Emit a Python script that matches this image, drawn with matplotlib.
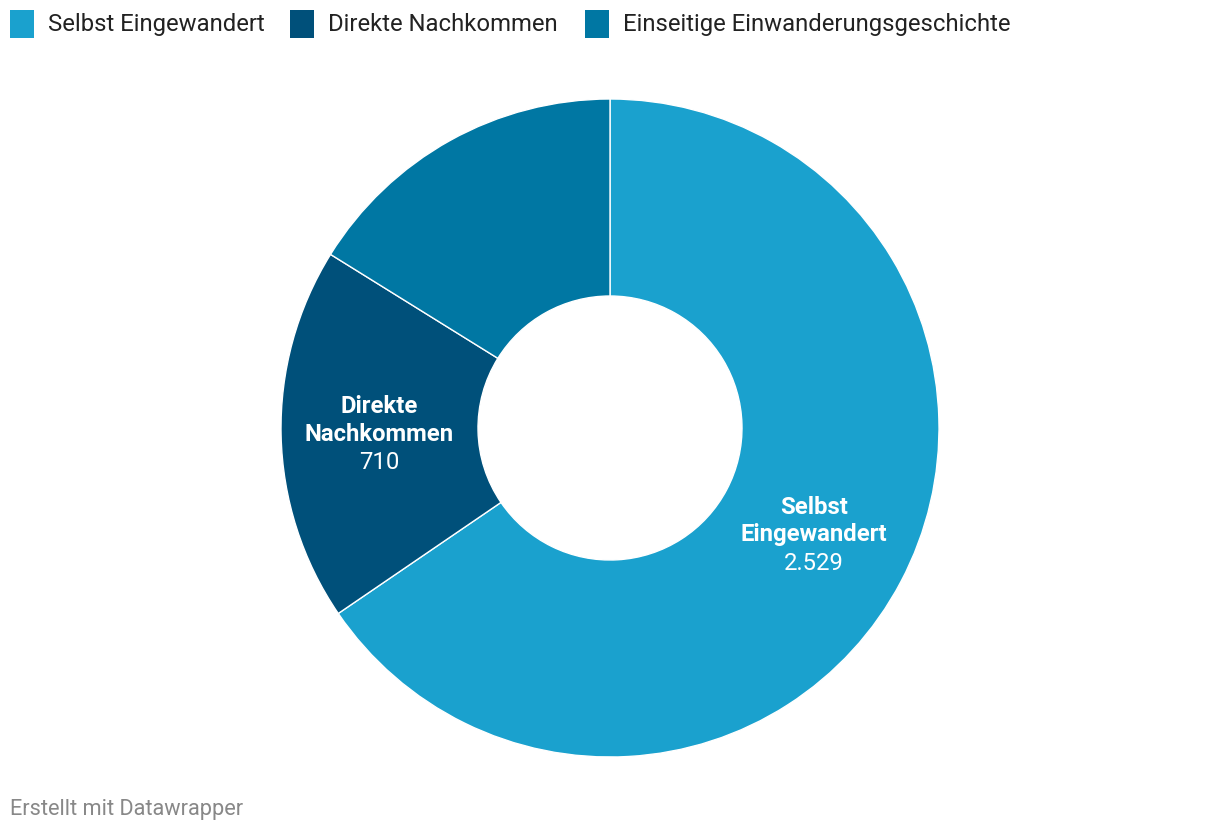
import matplotlib
matplotlib.use("Agg")
import matplotlib.pyplot as plt
from matplotlib.patches import Rectangle

plt.rcParams['font.family'] = ['Roboto', 'DejaVu Sans']

categories = ["Selbst Eingewandert", "Direkte Nachkommen", "Einseitige Einwanderungsgeschichte"]
values = [2529, 710, 624]
value_labels = ["2.529", "710", ""]
label_titles = [["Selbst", "Eingewandert"], ["Direkte", "Nachkommen"], []]
colors = ["#1aa1ce", "#00507a", "#0077a3"]

W, H = 1220, 834
fig = plt.figure(figsize=(W / 100, H / 100), dpi=100)
ax = fig.add_axes([0, 0, 1, 1])

cx, cy, R = 610, H - 428, 329
ax.pie(values, colors=colors, startangle=90, counterclock=False,
       center=(cx, cy), radius=R, frame=True,
       wedgeprops=dict(width=R - 132, edgecolor="white", linewidth=1))
ax.set_xlim(0, W)
ax.set_ylim(0, H)
ax.axis("off")

# slice labels (x, y of first line in pixels from top)
label_pos = [(814, 507), (379, 406)]
for i, (x, y) in enumerate(label_pos):
    lines = label_titles[i]
    for j, t in enumerate(lines):
        ax.text(x, H - (y + 28 * j), t, ha="center", va="center", color="white",
                fontsize=17.2, fontweight="bold")
    ax.text(x, H - (y + 28 * len(lines)), value_labels[i], ha="center", va="center",
            color="white", fontsize=17.2)

# legend
leg_x = [10, 290, 585]
for i, lab in enumerate(categories):
    ax.add_patch(Rectangle((leg_x[i], H - 38), 24, 28, color=colors[i], lw=0))
    ax.text(leg_x[i] + 38, H - 24, lab, ha="left", va="center", fontsize=17.2, color="#222222")

ax.text(10, H - 810, "Erstellt mit Datawrapper", ha="left", va="center", fontsize=15.7, color="#888888")

fig.savefig("out.png", dpi=100)
